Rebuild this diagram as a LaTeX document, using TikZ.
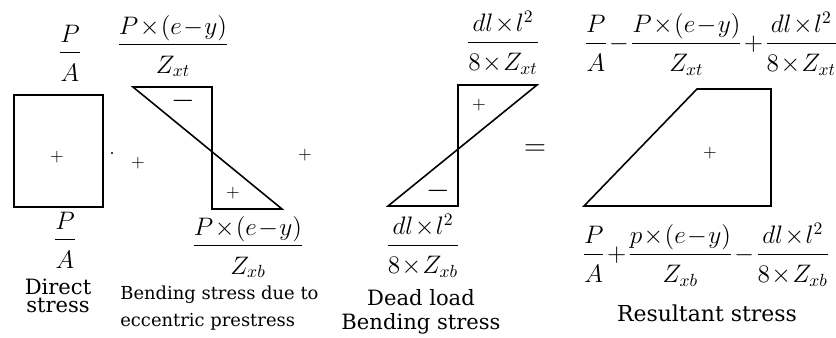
\documentclass[tikz,border=0pt]{standalone}
\usepackage{amsmath}
\usepackage{fontspec}
\setmainfont{DejaVu Serif}
\usepackage{tikz}
\usetikzlibrary{positioning}
\medmuskip=1mu
\thickmuskip=2mu
% fraction with the denominator set a little lower
\newcommand{\stf}[2]{\dfrac{#1}{\rule{0pt}{14pt}#2}}

\tikzset{
    eqn/.style={inner sep=0pt, font=\fontsize{14}{16}\selectfont},
    sgn/.style={inner sep=0pt, font=\fontsize{10}{12}\selectfont},
    lbl/.style={inner sep=0pt, font=\fontsize{11}{11}\selectfont},
    diag/.style={line width=0.9pt, line join=miter}
}

\begin{document}
\begin{tikzpicture}[x=0.02cm, y=-0.02cm]
    \useasboundingbox (0,0) rectangle (836,338);

    % direct stress
    \draw[diag] (14,95) rectangle (103,207);
    \node[sgn] (dsign) at (57,157) {$+$};
    \node[eqn] (datop) at (70,53) {$\stf{P}{A}$};
    \node[eqn] (dabot) at (65,240) {$\stf{P}{A}$};
    \node[lbl, align=center, font=\fontsize{12}{10.5}\selectfont] (dlab) at (58,296) {Direct\\stress};
    \fill (112,153) circle (0.6pt);

    % bending stress due to prestress
    \draw[diag] (133,87) -- (212,87) -- (212,209) -- (282,209) -- cycle;
    \node[sgn, font=\fontsize{16}{16}\selectfont] (bminus) at (183,101) {$-$};
    \node[sgn] (bplus) at (233,193) {$+$};
    \node[eqn] (bftop) at (173,46) {$\stf{P\times(e-y)}{Z_{xt}}$};
    \node[eqn] (bfbot) at (248,247) {$\stf{P\times(e-y)}{Z_{xb}}$};
    \node[lbl, align=left, anchor=west, font=\fontsize{10.2}{15}\selectfont] (blab) at (120,308)
        {Bending stress due to\\eccentric prestress};

    % dead load bending stress
    \draw[diag] (388,206) -- (458,206) -- (458,85) -- (537,85) -- cycle;
    \node[sgn] (lplus) at (479,105) {$+$};
    \node[sgn, font=\fontsize{16}{16}\selectfont] (lminus) at (438,191) {$-$};
    \node[eqn] (lftop) at (503,43) {$\stf{dl\times l^2}{8\times Z_{xt}}$};
    \node[eqn] (lfbot) at (423,246) {$\stf{dl\times l^2}{8\times Z_{xb}}$};
    \node[lbl, align=center, font=\fontsize{12}{14}\selectfont] (llab) at (421,312)
        {Dead load\\Bending stress};

    % resultant stress
    \draw[diag] (584,206) -- (697,89) -- (771,89) -- (771,206) -- cycle;
    \node[sgn] (rplus) at (710,153) {$+$};
    \node[eqn] (rftop) at (711,44)
        {$\stf{P}{A}-\stf{P\times(e-y)}{Z_{xt}}+\stf{dl\times l^2}{8\times Z_{xt}}$};
    \node[eqn] (rfbot) at (706,255)
        {$\stf{P}{A}+\stf{p\times(e-y)}{Z_{xb}}-\stf{dl\times l^2}{8\times Z_{xb}}$};
    \node[lbl, font=\fontsize{12.5}{12.5}\selectfont] (rlab) at (707,313) {Resultant stress};

    % operators between the diagrams
    \foreach \x/\y/\n in {138/163/opa, 305/155/opb}{
        \node[sgn] (\n) at (\x,\y) {$+$};
    }
    \node[sgn, font=\fontsize{17}{17}\selectfont] (opeq) at (535,150) {$=$};
\end{tikzpicture}
\end{document}
